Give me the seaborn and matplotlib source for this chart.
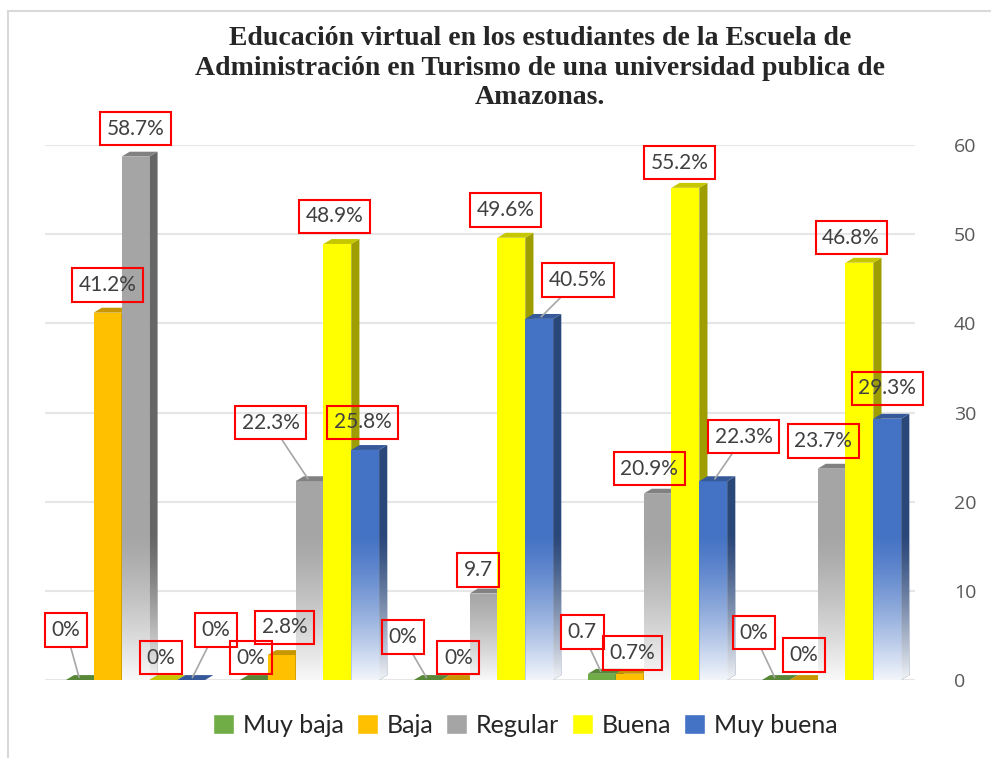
import numpy as np
import pandas as pd
import seaborn as sns
import matplotlib.pyplot as plt
from matplotlib.patches import Polygon, Rectangle
import matplotlib.colors as mcolors

# data
groups = ['1', '2', '3', '4', '5']
series = ['Muy baja', 'Baja', 'Regular', 'Buena', 'Muy buena']
muy_baja = [0, 0, 0, 0.7, 0]
baja = [41.2, 2.8, 0, 0.7, 0]
regular = [58.7, 22.3, 9.7, 20.9, 23.7]
buena = [0, 48.9, 49.6, 55.2, 46.8]
muy_buena = [0, 25.8, 40.5, 22.3, 29.3]

lab_muy_baja = ['0%', '0%', '0%', '0.7', '0%']
lab_baja = ['41.2%', '2.8%', '0%', '0.7%', '0%']
lab_regular = ['58.7%', '22.3%', '9.7', '20.9%', '23.7%']
lab_buena = ['0%', '48.9%', '49.6%', '55.2%', '46.8%']
lab_muy_buena = ['0%', '25.8%', '40.5%', '22.3%', '29.3%']

colors = ['#70ad47', '#ffc000', '#a5a5a5', '#ffff00', '#4472c4']

values = [muy_baja, baja, regular, buena, muy_buena]
labels = [lab_muy_baja, lab_baja, lab_regular, lab_buena, lab_muy_buena]

rows = []
for s, vals in zip(series, values):
    for g, v in zip(groups, vals):
        rows.append({'grupo': g, 'serie': s, 'valor': v})
df = pd.DataFrame(rows)

sns.set_style('white')
fig = plt.figure(figsize=(9.91, 7.58), dpi=100)
ax = fig.add_axes([0.0454, 0.1029, 0.878, 0.7058])

sns.barplot(data=df, x='grupo', y='valor', hue='serie', hue_order=series,
            order=groups, palette=colors, saturation=1, width=0.8,
            legend=False, ax=ax, linewidth=0)

# label offsets (points) for the boxes, and whether a leader line is drawn
offsets = {
    (0, 0): (-10, 36, True), (0, 1): (0, 20, False), (0, 2): (0, 20, False),
    (0, 3): (-2, 16, False), (0, 4): (18, 36, True),
    (1, 0): (-2, 16, False), (1, 1): (2, 20, False), (1, 2): (-28, 42, True),
    (1, 3): (-2, 20, False), (1, 4): (-2, 20, False),
    (2, 0): (-18, 31, True), (2, 1): (2, 16, False), (2, 2): (-4, 17, False),
    (2, 3): (-4, 20, False), (2, 4): (28, 28, True),
    (3, 0): (-14, 30, True), (3, 1): (2, 15, False), (3, 2): (-6, 18, False),
    (3, 3): (-4, 18, False), (3, 4): (22, 32, True),
    (4, 0): (-16, 34, True), (4, 1): (0, 18, False), (4, 2): (-6, 20, False),
    (4, 3): (-6, 18, False), (4, 4): (0, 22, False),
}

dx, dy = 0.047, 0.55
bars = ax.patches[:]
for k in range(len(series)):
    side_col = np.array(mcolors.to_rgb(colors[k])) * 0.62
    top_col = np.array(mcolors.to_rgb(colors[k])) * 0.78
    for i in range(len(groups)):
        p = bars[k * len(groups) + i]
        p.set_zorder(3 + k)
        x0, w, h = p.get_x(), p.get_width(), p.get_height()
        x1 = x0 + w
        side = Polygon([(x1, 0), (x1 + dx, dy), (x1 + dx, h + dy), (x1, h)],
                       closed=True, facecolor=side_col, edgecolor='none', zorder=3.5 + k)
        top = Polygon([(x0, h), (x0 + dx, h + dy), (x1 + dx, h + dy), (x1, h)],
                      closed=True, facecolor=top_col, edgecolor='none', zorder=3.6 + k)
        ax.add_patch(side)
        ax.add_patch(top)
        # white fade at the bottom of gray and blue bars
        if k in (2, 4) and h > 0:
            top_f = min(h, 16)
            grad = np.ones((100, 1, 4))
            grad[:, 0, 3] = np.linspace(0.95, 0, 100) ** 1.3
            im = ax.imshow(grad, extent=(x0, x1 + dx, 0, top_f + dy), origin='lower',
                           aspect='auto', zorder=3.7 + k, interpolation='bilinear')
            clip = Polygon([(x0, 0), (x1, 0), (x1 + dx, dy), (x1 + dx, h + dy), (x0, h)],
                           closed=True, transform=ax.transData)
            im.set_clip_path(clip)

        ox, oy, lead = offsets[(i, k)]
        xc = x0 + w / 2
        ax.annotate(labels[k][i], xy=(xc, h), xytext=(ox, oy), textcoords='offset points',
                    ha='center', va='center', fontsize=15, color='#404040', family='Lato',
                    bbox=dict(boxstyle='square,pad=0.32', facecolor='none', edgecolor='red', lw=1.5),
                    arrowprops=dict(arrowstyle='-', color='#a6a6a6', lw=1.2, shrinkA=0, shrinkB=2) if lead else None,
                    zorder=20, annotation_clip=False)

ax.set_xlim(-0.52, 4.48)
ax.set_ylim(0, 60)
ax.set_yticks(range(0, 61, 10))
ax.yaxis.tick_right()
ax.tick_params(axis='y', length=0, pad=28, labelsize=14, labelcolor='#595959')
ax.tick_params(axis='x', length=0, labelbottom=False)
ax.set_xlabel('')
ax.set_ylabel('')
ax.grid(axis='y', color='#e6e6e6', lw=1.5, zorder=0)
ax.set_axisbelow(True)
for s in ax.spines.values():
    s.set_visible(False)
for lbl in ax.get_yticklabels():
    lbl.set_family('Open Sans')

fig.text(0.545, 0.966, 'Educación virtual en los estudiantes de la Escuela de\n'
         'Administración en Turismo de una universidad publica de\nAmazonas.',
         ha='center', va='top', fontsize=20, fontweight='bold', family='Liberation Serif',
         linespacing=1.25)

handles = [Rectangle((0, 0), 1, 1, facecolor=c) for c in colors]
fig.legend(handles, series, loc='center', bbox_to_anchor=(0.53, 0.043), ncol=5,
           frameon=False, handlelength=0.85, handleheight=0.85,
           handletextpad=0.35, columnspacing=0.5, prop={'family': 'Lato', 'size': 18})

# chart border
fig.add_artist(plt.Line2D([0.008, 0.008], [0, 0.985], color='#d9d9d9', lw=1.5))
fig.add_artist(plt.Line2D([0.008, 1.0], [0.985, 0.985], color='#d9d9d9', lw=1.5))

fig.savefig('out.png', dpi=100)
